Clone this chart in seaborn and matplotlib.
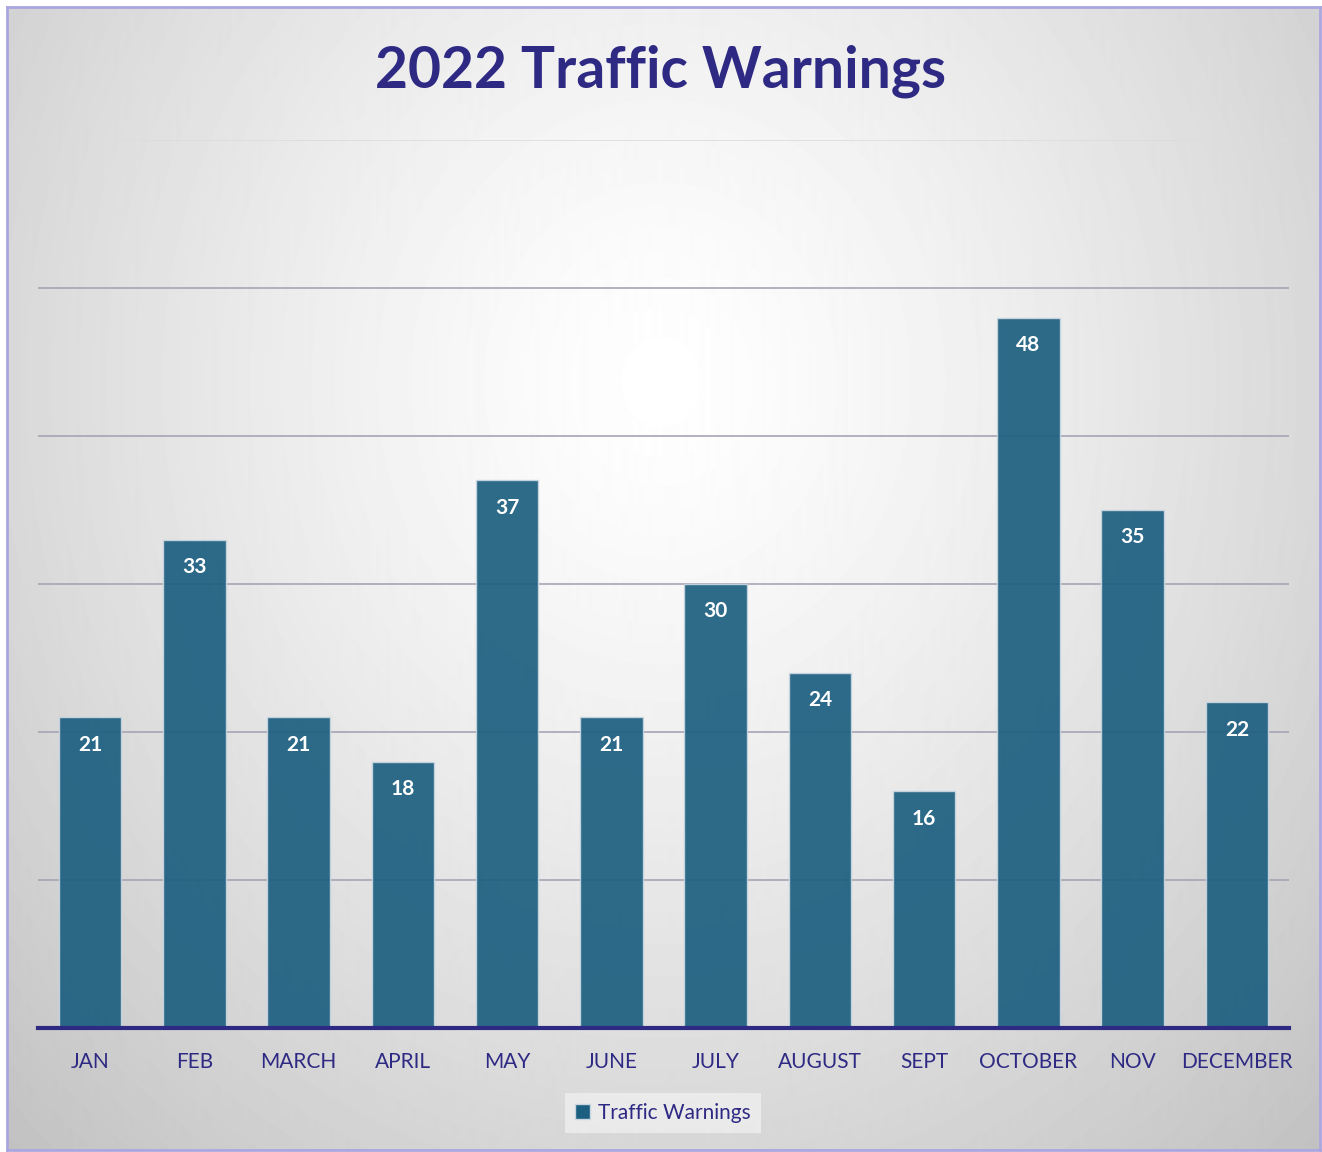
import numpy as np
import seaborn as sns
import matplotlib.pyplot as plt
from matplotlib.patches import Patch

months = ['JAN', 'FEB', 'MARCH', 'APRIL', 'MAY', 'JUNE', 'JULY',
          'AUGUST', 'SEPT', 'OCTOBER', 'NOV', 'DECEMBER']
warnings = [21, 33, 21, 18, 37, 21, 30, 24, 16, 48, 35, 22]

navy = '#2e2a84'
bar_color = '#1c5f80'

sns.set_style('white')
plt.rcParams['font.family'] = ['Lato', 'DejaVu Sans']

fig = plt.figure(figsize=(13.22, 11.52), dpi=100)

# radial gradient background inside the chart frame (white near the top middle)
bg = fig.add_axes([7/1322, 2/1152, 1313/1322, 1143/1152], zorder=0)
yy, xx = np.mgrid[0:1143, 0:1313]
r = np.sqrt(((xx - 653) / 620) ** 2 + ((yy - 375) / 700) ** 2)
shade = np.clip(1.0 - 0.14 * r ** 1.3, 0.74, 1.0)
bg.imshow(shade, cmap='gray', vmin=0, vmax=1, aspect='auto', origin='upper',
          extent=[0, 1, 0, 1])
bg.set_xlim(0, 1)
bg.set_ylim(0, 1)
bg.set_xticks([])
bg.set_yticks([])
for s in bg.spines.values():
    s.set_color('#aaa6e0')
    s.set_linewidth(2)

ax = fig.add_axes([38/1322, (1152-1028)/1152, (1289-38)/1322, (1028-140)/1152], zorder=1)
ax.patch.set_alpha(0)

sns.barplot(x=months, y=warnings, ax=ax, color=bar_color, width=0.6,
            saturation=1, alpha=0.92, edgecolor='#c9d6e0', linewidth=1, zorder=3)

for i, v in enumerate(warnings):
    ax.text(i, v - 1.85, str(v), ha='center', va='center', color='white',
            fontsize=15, fontweight='bold', zorder=4)

ax.set_ylim(0, 60)
ax.set_xlim(-0.5, 11.5)
ax.set_yticks([10, 20, 30, 40, 50, 60])
ax.set_yticklabels([])
ax.yaxis.grid(True, color='#a8a4b4', linewidth=1.2, zorder=0)
ax.tick_params(axis='y', length=0)
ax.tick_params(axis='x', length=0, labelsize=15, labelcolor=navy, pad=17)
ax.set_xlabel('')
ax.set_ylabel('')
sns.despine(ax=ax, left=True, top=True, right=True)
ax.spines['bottom'].set_color(navy)
ax.spines['bottom'].set_linewidth(3)
ax.spines['bottom'].set_zorder(5)
ax.get_ygridlines()[-1].set_color('#dcdcdc')

fig.text(0.5, 1 - 71/1152, '2022 Traffic Warnings', ha='center', va='center',
         fontsize=41, fontweight='bold', color=navy)

leg = fig.legend(handles=[Patch(facecolor=bar_color, edgecolor='#c9d6e0')],
                 labels=['Traffic Warnings'], loc='center',
                 bbox_to_anchor=(663/1322, 1 - 1113/1152), frameon=True,
                 fontsize=15, handlelength=0.7, handleheight=0.7, handletextpad=0.4,
                 borderpad=0.5)
for t in leg.get_texts():
    t.set_color(navy)
leg.get_frame().set_facecolor('#f2f2f2')
leg.get_frame().set_edgecolor('none')
leg.get_frame().set_alpha(0.7)
leg.get_frame().set_boxstyle('square', pad=0.0)

fig.savefig('out.png', dpi=100, facecolor='white')
